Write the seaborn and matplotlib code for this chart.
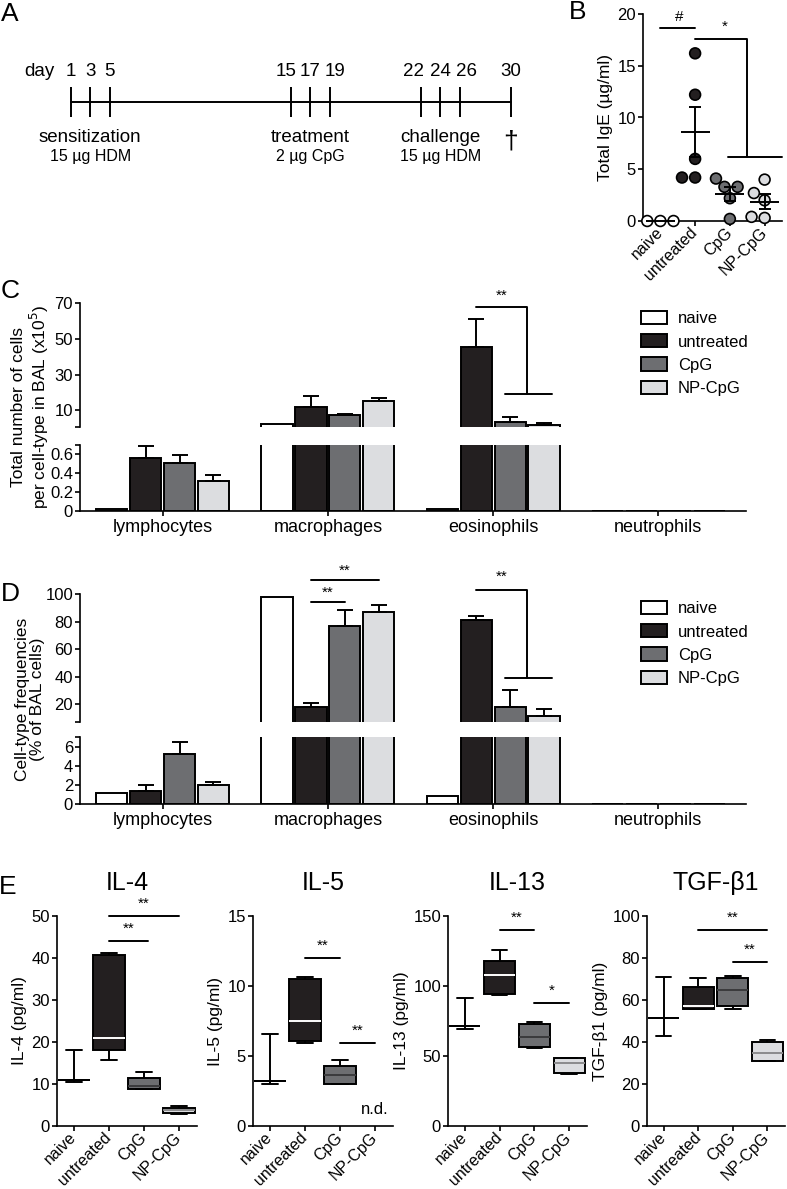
import numpy as np
import pandas as pd
import matplotlib
matplotlib.use("Agg")
import matplotlib.pyplot as plt
import seaborn as sns
from matplotlib.patches import Patch
from matplotlib.container import BarContainer

# ---------------- data ----------------
groups = ["naive", "untreated", "CpG", "NP-CpG"]
group_colors = ["#ffffff", "#231f20", "#6d6e71", "#dcdde0"]
median_colors = ["#000000", "#ffffff", "#3a3a3c", "#8a8a8c"]

# A: timeline
days = [1, 3, 5, 15, 17, 19, 22, 24, 26, 30]
day_slot = [0, 1, 2, 11.2, 12.2, 13.2, 17.8, 18.8, 19.8, 22.4]   # schematic spacing
day_label_shift = [0, 0, 0, -0.25, 0, 0.25, -0.35, 0, 0.35, 0]   # label spreading
phases = ["sensitization", "treatment", "challenge"]
phase_doses = ["15 µg HDM", "2 µg CpG", "15 µg HDM"]
phase_center_day = [3, 17, 24]

# B: total IgE (µg/ml)
ige_naive = [0.0, 0.0, 0.0]
ige_untreated = [16.2, 12.2, 6.0, 4.2, 4.2]
ige_cpg = [4.1, 3.3, 3.3, 2.2, 0.2]
ige_npcpg = [4.0, 2.7, 2.0, 0.3, 0.4]

# C: total number of cells (x10^5), mean and SEM
cell_types = ["lymphocytes", "macrophages", "eosinophils", "neutrophils"]
count_naive = [0.02, 2.4, 0.02, 0.0]
count_untreated = [0.56, 11.9, 45.3, 0.0]
count_cpg = [0.51, 7.6, 3.3, 0.0]
count_npcpg = [0.32, 15.0, 1.8, 0.004]
count_sem_naive = [0.0, 0.0, 0.0, 0.0]
count_sem_untreated = [0.13, 6.3, 15.7, 0.0]
count_sem_cpg = [0.08, 0.5, 2.8, 0.0]
count_sem_npcpg = [0.06, 1.9, 1.1, 0.0]

# D: cell-type frequencies (% of BAL cells)
freq_naive = [1.1, 97.6, 0.85, 0.0]
freq_untreated = [1.37, 17.8, 81.2, 0.0]
freq_cpg = [5.26, 76.8, 17.8, 0.0]
freq_npcpg = [2.0, 86.6, 11.2, 0.0]
freq_sem_naive = [0.0, 0.0, 0.0, 0.0]
freq_sem_untreated = [0.6, 2.9, 2.5, 0.0]
freq_sem_cpg = [1.25, 11.7, 12.2, 0.0]
freq_sem_npcpg = [0.3, 5.6, 5.4, 0.0]

# E: cytokines (pg/ml): [min, Q1, median, Q3, max]
il4 = {"naive": [10.5, 10.9, 10.9, 10.9, 18.0],
       "untreated": [15.8, 18.0, 21.0, 40.6, 41.2],
       "CpG": [8.9, 8.9, 9.6, 11.5, 12.9],
       "NP-CpG": [2.9, 3.2, 3.8, 4.3, 4.8]}
il5 = {"naive": [3.0, 3.2, 3.2, 3.2, 6.6],
       "untreated": [5.96, 6.08, 7.49, 10.5, 10.66],
       "CpG": [2.98, 3.03, 3.62, 4.27, 4.7]}
il13 = {"naive": [69.4, 71.5, 71.5, 71.5, 91.4],
        "untreated": [93.8, 94.5, 108.1, 117.7, 125.6],
        "CpG": [56.0, 56.2, 63.9, 73.0, 74.6],
        "NP-CpG": [36.8, 38.0, 44.7, 48.3, 48.8]}
tgfb1 = {"naive": [42.9, 51.2, 51.2, 51.2, 71.1],
         "untreated": [55.5, 55.5, 57.1, 66.0, 70.3],
         "CpG": [55.5, 57.1, 65.0, 70.7, 71.4],
         "NP-CpG": [30.8, 30.8, 34.8, 40.1, 40.9]}

# ---------------- style ----------------
sns.set_style("ticks")
plt.rcParams["font.family"] = ["Liberation Sans", "DejaVu Sans"]
plt.rcParams.update({
    "axes.linewidth": 1.2, "axes.edgecolor": "black",
    "xtick.major.width": 1.2, "ytick.major.width": 1.2,
    "xtick.major.size": 3.5, "ytick.major.size": 3.5,
    "xtick.color": "black", "ytick.color": "black",
    "text.color": "black", "axes.labelcolor": "black",
    "xtick.major.pad": 2, "ytick.major.pad": 1.5,
    "xtick.labelsize": 12, "ytick.labelsize": 12,
})
pal = dict(zip(groups, group_colors))
W, H = 787, 1189
fig = plt.figure(figsize=(W / 100, H / 100), dpi=100)


def add_ax(l, t, r, b):
    return fig.add_axes([l / W, 1 - b / H, (r - l) / W, (b - t) / H])


def ftext(x, y, s, **kw):
    fig.text(x / W, 1 - y / H, s, **kw)


def rotate_xlabels(ax, size):
    ax.tick_params(axis="x", pad=3)
    plt.setp(ax.get_xticklabels(), rotation=45, ha="right", va="center",
             rotation_mode="anchor", fontsize=size)


LW = 1.4
STAR = 11

# ---------------- A ----------------
axA = add_ax(20, 40, 545, 180)
slot_of = dict(zip(days, day_slot))
pxs = (511 - 70.5) / 22.4
axA.set_xlim(-(70.5 - 20) / pxs, 22.4 + (545 - 511) / pxs)
axA.set_ylim(140, 0)
axA.axis("off")
axA.plot([min(day_slot), max(day_slot)], [62, 62], color="black", lw=LW)
axA.vlines(day_slot, 47, 77, color="black", lw=LW)
for d, s, sh in zip(days, day_slot, day_label_shift):
    axA.text(s + sh, 31, str(d), ha="center", va="center", fontsize=13.5)
axA.text(-0.8, 31, "day", ha="right", va="center", fontsize=13.5)
for ph, dose, cd in zip(phases, phase_doses, phase_center_day):
    axA.text(slot_of[cd], 97, ph, ha="center", va="center", fontsize=13.5)
    axA.text(slot_of[cd], 117, dose, ha="center", va="center", fontsize=11.5)
axA.text(slot_of[30], 102, "†", ha="center", va="center", fontsize=19)

# ---------------- B ----------------
axB = add_ax(643, 14, 782, 221)
dfB = pd.DataFrame({
    "group": ["naive"] * len(ige_naive) + ["untreated"] * len(ige_untreated)
             + ["CpG"] * len(ige_cpg) + ["NP-CpG"] * len(ige_npcpg),
    "value": ige_naive + ige_untreated + ige_cpg + ige_npcpg})
sns.swarmplot(data=dfB, x="group", y="value", hue="group", order=groups,
              hue_order=groups, palette=pal, size=7.8, edgecolor="black",
              linewidth=1.2, legend=False, ax=axB, zorder=3)
for c in axB.collections:
    c.set_clip_on(False)
statsB = dfB.groupby("group")["value"].agg(["mean", "sem"]).reindex(groups)
for i, g in enumerate(groups):
    m, s = statsB.loc[g, "mean"], statsB.loc[g, "sem"]
    axB.hlines(m, i - 0.42, i + 0.42, color="black", lw=LW, zorder=4, clip_on=False)
    if s > 0:
        axB.errorbar(i, m, yerr=s, fmt="none", ecolor="black", elinewidth=LW,
                     capsize=4.5, capthick=LW, zorder=4)
axB.set_xlim(-0.5, 3.5)
axB.set_ylim(0, 20)
axB.set_yticks([0, 5, 10, 15, 20])
axB.set_xlabel("")
axB.set_ylabel("Total IgE (µg/ml)", fontsize=12.5, labelpad=3)
rotate_xlabels(axB, 11.5)
sns.despine(ax=axB)
# significance
axB.plot([0, 1], [18.6, 18.6], color="black", lw=LW, clip_on=False)
axB.text(0.55, 19.0, "#", ha="center", va="bottom", fontsize=STAR)
axB.plot([1, 2.5, 2.5], [17.6, 17.6, 6.2], color="black", lw=LW, clip_on=False)
axB.plot([1.95, 3.5], [6.2, 6.2], color="black", lw=LW, clip_on=False)
axB.text(1.85, 18.1, "*", ha="center", va="bottom", fontsize=STAR)


# ---------------- C and D (broken axes) ----------------
def long_bars(vals, sems):
    rows = []
    for g, v, s in zip(groups, vals, sems):
        for ct, vv, ss in zip(cell_types, v, s):
            rows.append({"cell": ct, "group": g, "mean": vv, "sem": ss})
    return pd.DataFrame(rows)


def draw_bars(ax, df, ylim):
    sns.barplot(data=df, x="cell", y="mean", hue="group", order=cell_types,
                hue_order=groups, palette=pal, saturation=1, edgecolor="black",
                linewidth=LW, width=0.82, gap=0.08, errorbar=None,
                legend=False, ax=ax)
    ax.set_ylim(*ylim)
    pos = {}
    bar_conts = [c for c in ax.containers if isinstance(c, BarContainer)]
    for gi, cont in enumerate(bar_conts):
        g = groups[gi]
        for ci, p in enumerate(cont.patches):
            x = p.get_x() + p.get_width() / 2
            pos[(g, cell_types[ci])] = x
            r = df[(df.group == g) & (df.cell == cell_types[ci])].iloc[0]
            if ylim[0] > 0 and r["mean"] < ylim[0]:
                p.set_visible(False)          # bar lies wholly below this segment
            top = r["mean"] + r["sem"]
            if r["sem"] > 0 and top > ylim[0] and r["mean"] < ylim[1]:
                ax.errorbar(x, r["mean"], yerr=[[0], [r["sem"]]], fmt="none",
                            ecolor="black", elinewidth=LW, capsize=6,
                            capthick=LW, zorder=1)
    ax.set_xlim(-0.5, 3.53)
    ax.set_xlabel("")
    ax.set_ylabel("")
    return pos


dfC = long_bars([count_naive, count_untreated, count_cpg, count_npcpg],
                [count_sem_naive, count_sem_untreated, count_sem_cpg, count_sem_npcpg])
axCu = add_ax(80, 303, 746, 427)
axCl = add_ax(80, 445, 746, 511)
posC = draw_bars(axCu, dfC, (0.7, 70))
draw_bars(axCl, dfC, (0, 0.7))
axCu.set_yticks([0.7, 10, 30, 50, 70])
axCu.set_yticklabels(["", "10", "30", "50", "70"])
axCu.set_xticks([])
sns.despine(ax=axCu, bottom=True)
axCl.set_yticks([0, 0.2, 0.4, 0.6, 0.7])
axCl.set_yticklabels(["0", "0.2", "0.4", "0.6", ""])
axCl.tick_params(axis="x", labelsize=13)
sns.despine(ax=axCl)
ftext(31, 407, "Total number of cells\nper cell-type in BAL (x10$^5$)",
      rotation=90, ha="center", va="center", fontsize=12.5, linespacing=1.05)
# significance C
xu, xc, xn = (posC[(g, "eosinophils")] for g in ["untreated", "CpG", "NP-CpG"])
xm = (xc + xn) / 2
axCu.plot([xu, xm, xm], [67.8, 67.8, 19], color="black", lw=LW, clip_on=False)
axCu.plot([xc - 0.03, xn + 0.05], [19, 19], color="black", lw=LW, clip_on=False)
axCu.text((xu + xm) / 2, 70, "**", ha="center", va="bottom", fontsize=STAR)

dfD = long_bars([freq_naive, freq_untreated, freq_cpg, freq_npcpg],
                [freq_sem_naive, freq_sem_untreated, freq_sem_cpg, freq_sem_npcpg])
axDu = add_ax(80, 594, 746, 722)
axDl = add_ax(80, 737, 746, 804)
posD = draw_bars(axDu, dfD, (7, 100))
draw_bars(axDl, dfD, (0, 7))
axDu.set_yticks([7, 20, 40, 60, 80, 100])
axDu.set_yticklabels(["", "20", "40", "60", "80", "100"])
axDu.set_xticks([])
sns.despine(ax=axDu, bottom=True)
axDl.set_yticks([0, 2, 4, 6, 7])
axDl.set_yticklabels(["0", "2", "4", "6", ""])
axDl.tick_params(axis="x", labelsize=13)
sns.despine(ax=axDl)
ftext(30, 699, "Cell-type frequencies\n(% of BAL cells)",
      rotation=90, ha="center", va="center", fontsize=12.5, linespacing=1.05)
# significance D
mu, mc, mn = (posD[(g, "macrophages")] for g in ["untreated", "CpG", "NP-CpG"])
axDu.plot([mu, mc], [94, 94], color="black", lw=LW, clip_on=False)
axDu.text((mu + mc) / 2, 95.5, "**", ha="center", va="bottom", fontsize=STAR)
axDu.plot([mu, mn], [110, 110], color="black", lw=LW, clip_on=False)
axDu.text((mu + mn) / 2, 111.5, "**", ha="center", va="bottom", fontsize=STAR)
eu, ec, en = (posD[(g, "eosinophils")] for g in ["untreated", "CpG", "NP-CpG"])
em = (ec + en) / 2
axDu.plot([eu, em, em], [103, 103, 39.3], color="black", lw=LW, clip_on=False)
axDu.plot([ec - 0.03, en + 0.05], [39.3, 39.3], color="black", lw=LW, clip_on=False)
axDu.text((eu + em) / 2, 107.5, "**", ha="center", va="bottom", fontsize=STAR)

# legends
for y0 in (311, 601):
    handles = [Patch(facecolor=c, edgecolor="black", linewidth=LW) for c in group_colors]
    fig.legend(handles, groups, loc="upper left",
               bbox_to_anchor=(641 / W, 1 - y0 / H), frameon=False,
               fontsize=12, handlelength=1.56, handleheight=0.84,
               labelspacing=0.47, handletextpad=0.66, borderpad=0, borderaxespad=0)

# ---------------- E ----------------
cytos = [("IL-4", il4, 50, [0, 10, 20, 30, 40, 50], "IL-4 (pg/ml)", 57, 197),
         ("IL-5", il5, 15, [0, 5, 10, 15], "IL-5 (pg/ml)", 253, 393),
         ("IL-13", il13, 150, [0, 50, 100, 150], "IL-13 (pg/ml)", 448, 587),
         ("TGF-β1", tgfb1, 100, [0, 20, 40, 60, 80, 100], "TGF-β1 (pg/ml)", 647, 785)]
sigE = {"IL-4": [(1, 3, 50, "**"), (1, 2.1, 44, "**")],
        "IL-5": [(1, 2, 12.0, "**"), (2, 3, 5.96, "**")],
        "IL-13": [(1, 2, 140, "**"), (2, 3, 87.8, "*")],
        "TGF-β1": [(1, 3, 93.3, "**"), (2, 3, 78.2, "**")]}
for title, data, top, ticks, ylab, l, r in cytos:
    ax = add_ax(l, 916, r, 1126)
    rows = [{"group": g, "value": v} for g in groups if g in data for v in data[g]]
    dfE = pd.DataFrame(rows)
    sns.boxplot(data=dfE, x="group", y="value", hue="group", order=groups,
                hue_order=[g for g in groups if g in data], palette=pal,
                saturation=1, width=0.9, whis=(0, 100), showfliers=False,
                linecolor="black", linewidth=LW, legend=False, ax=ax)
    for ln in ax.lines:
        xd = np.asarray(ln.get_xdata(), dtype=float)
        yd = np.asarray(ln.get_ydata(), dtype=float)
        if len(xd) == 2 and abs(xd[1] - xd[0]) > 0.85 and yd[0] == yd[1]:
            gi = int(round(xd.mean()))
            ln.set_color(median_colors[gi])
            ln.set_zorder(5)
    ax.set_xlim(-0.48, 3.51)
    ax.set_ylim(0, top)
    ax.set_yticks(ticks)
    ax.set_xticks(range(4))
    ax.set_xticklabels(groups)
    rotate_xlabels(ax, 11.5)
    ax.set_xlabel("")
    ax.set_ylabel(ylab, fontsize=12.5, labelpad=3)
    sns.despine(ax=ax)
    ax.set_title(title, fontsize=18, pad=19)
    for x0, x1, yv, lab in sigE[title]:
        ax.plot([x0, x1], [yv, yv], color="black", lw=LW, clip_on=False)
        ax.text((x0 + x1) / 2, yv + top * 0.025, lab, ha="center", va="bottom", fontsize=STAR)
    if title == "IL-5":
        ax.text(3, top * 0.08, "n.d.", ha="center", va="center", fontsize=12)

# panel letters
for lab, x, y in [("A", 10, 14), ("B", 578, 12), ("C", 10, 291), ("D", 10, 594), ("E", 8, 887)]:
    ftext(x, y, lab, ha="center", va="center", fontsize=19)

fig.savefig("out.png", dpi=100)
